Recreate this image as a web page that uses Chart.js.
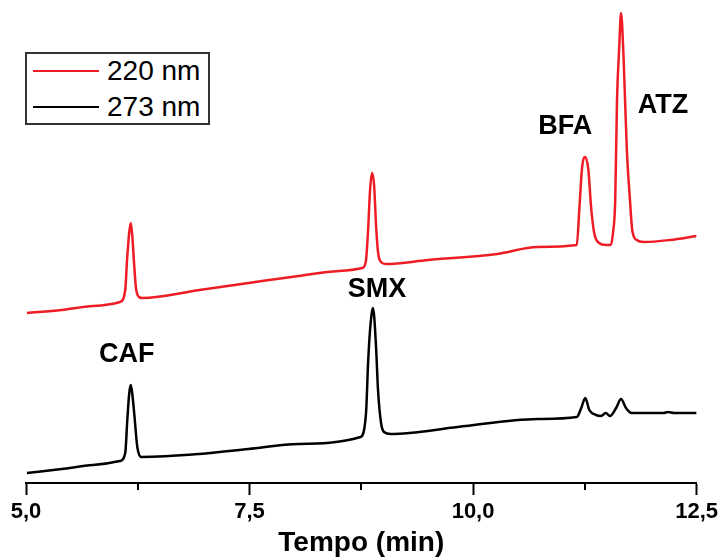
<!DOCTYPE html>
<html lang="pt">
<head>
<meta charset="utf-8">
<title>Cromatograma</title>
<script src="https://cdn.jsdelivr.net/npm/chart.js@4.4.1/dist/chart.umd.min.js"></script>
<style>
  html, body { margin: 0; padding: 0; background: #fff; }
  #wrap { position: relative; width: 724px; height: 558px; }
  #legend {
    position: absolute; left: 25px; top: 52px; width: 181px; height: 69px;
    border: 2px solid #333; background: #fff;
    font: 28px "Liberation Sans", Arial, sans-serif; color: #000;
  }
  #legend .row { position: absolute; left: 6px; height: 36px; display: flex; align-items: center; white-space: nowrap; }
  #legend .swatch { width: 66px; height: 0; border-top: 2px solid; margin-right: 8px; }
</style>
</head>
<body>
<div id="wrap">
  <canvas id="chrom" width="724" height="558"></canvas>
  <div id="legend"></div>
</div>
<script>
// retention time (min) and detector signal (a.u.) for each wavelength
const times220 = [5.01, 5.40, 5.75, 6.05, 6.11, 6.13, 6.155, 6.172, 6.188, 6.21, 6.23, 6.265, 6.30, 6.94, 7.49, 8.05, 8.50, 8.76,
  8.80, 8.826, 8.848, 8.87, 8.893, 8.915, 8.937, 8.97, 9.026, 9.50, 10.27, 10.72, 11.16, 11.19, 11.22, 11.255, 11.29, 11.32,
  11.355, 11.41, 11.485, 11.54, 11.565, 11.59, 11.61, 11.635, 11.655, 11.68, 11.70, 11.72, 11.755, 11.78, 11.83, 11.91, 12.2, 12.5];
const signal220 = [170, 173, 177, 181, 193, 223, 251, 260, 248, 218, 195, 186, 185, 193, 200, 207, 212, 215,
  221, 253, 293, 310, 298, 258, 231, 221, 219, 223, 229, 236, 238, 276, 316, 326, 313, 276,
  250, 240, 238, 238, 250, 283, 383, 436, 470, 433, 383, 333, 283, 253, 243, 241, 243, 247];

const times273 = [5.01, 5.40, 5.75, 6.05, 6.11, 6.133, 6.155, 6.172, 6.19, 6.21, 6.245, 6.29, 6.94, 7.49, 8.05, 8.74,
  8.803, 8.826, 8.848, 8.881, 8.915, 8.937, 8.971, 9.004, 9.08, 9.83, 10.72, 11.16, 11.21, 11.255, 11.30, 11.375,
  11.43, 11.485, 11.53, 11.60, 11.655, 11.71, 11.775, 12.13, 12.18, 12.25, 12.5];
const signal273 = [10, 14, 18, 22, 30, 63, 90, 98, 88, 70, 36, 26, 29, 34, 39, 46,
  70, 120, 153, 175, 136, 93, 60, 51, 49, 56, 64, 66, 75, 85, 73, 68,
  67, 70, 67, 75, 84, 75, 70, 70, 71, 70, 70];

const seriesLabels = ["220 nm", "273 nm"];
const seriesColors = ["#ee1c25", "#000000"];

const peakNames = ["CAF", "SMX", "BFA", "ATZ"];
const peakTimes = [6.172, 8.881, 11.255, 11.655];

const majorTicks = [5.0, 7.5, 10.0, 12.5];
const majorTickLabels = ["5,0", "7,5", "10,0", "12,5"];
const minorTicks = [6.25, 8.75, 11.25];

const FONT = '"Liberation Sans", Arial, sans-serif';

function toPoints(xs, ys) {
  return xs.map((x, i) => ({ x, y: ys[i] }));
}

// where each peak name sits, relative to the apex of the trace it names
const peakLabelLayout = [
  { series: 1, dx: -4, dy: -30 },
  { series: 1, dx: 4, dy: -18 },
  { series: 0, dx: -20, dy: -30 },
  { series: 0, dx: 42, dy: 93 }
];

const peakLabels = {
  id: "peakLabels",
  afterDatasetsDraw(chart) {
    const { ctx, scales: { x, y } } = chart;
    ctx.save();
    ctx.font = `bold 27px ${FONT}`;
    ctx.fillStyle = "#000";
    ctx.textAlign = "center";
    ctx.textBaseline = "middle";
    peakNames.forEach((name, i) => {
      const lay = peakLabelLayout[i];
      const pts = chart.data.datasets[lay.series].data;
      let apex = null;
      pts.forEach(p => {
        if (Math.abs(p.x - peakTimes[i]) < 0.05 && (!apex || p.y > apex.y)) apex = p;
      });
      if (!apex) return;
      ctx.fillText(name, x.getPixelForValue(apex.x) + lay.dx, y.getPixelForValue(apex.y) + lay.dy);
    });
    ctx.restore();
  }
};

// shorter tick marks between the labelled ones
const minorTickMarks = {
  id: "minorTickMarks",
  afterDraw(chart) {
    const { ctx, chartArea, scales: { x } } = chart;
    ctx.save();
    ctx.strokeStyle = "#000";
    ctx.lineWidth = 2;
    minorTicks.forEach(v => {
      const px = Math.round(x.getPixelForValue(v));
      ctx.beginPath();
      ctx.moveTo(px, chartArea.bottom);
      ctx.lineTo(px, chartArea.bottom + 7);
      ctx.stroke();
    });
    ctx.restore();
  }
};

const htmlLegend = {
  id: "htmlLegend",
  afterUpdate(chart) {
    const box = document.getElementById("legend");
    box.innerHTML = "";
    chart.data.datasets.forEach((ds, i) => {
      const row = document.createElement("div");
      row.className = "row";
      row.style.top = (-1 + i * 36) + "px";
      const sw = document.createElement("span");
      sw.className = "swatch";
      sw.style.borderTopColor = ds.borderColor;
      const txt = document.createElement("span");
      txt.textContent = ds.label;
      row.appendChild(sw);
      row.appendChild(txt);
      box.appendChild(row);
    });
  }
};

new Chart(document.getElementById("chrom"), {
  type: "line",
  data: {
    datasets: [
      { label: seriesLabels[0], data: toPoints(times220, signal220), borderColor: seriesColors[0] },
      { label: seriesLabels[1], data: toPoints(times273, signal273), borderColor: seriesColors[1] }
    ]
  },
  options: {
    responsive: false,
    animation: false,
    devicePixelRatio: 1,
    layout: { padding: { left: 26, right: 24, top: 10, bottom: 1 } },
    elements: {
      point: { radius: 0 },
      line: { borderWidth: 2.5, cubicInterpolationMode: "monotone", fill: false }
    },
    plugins: { legend: { display: false }, tooltip: { enabled: false } },
    scales: {
      x: {
        type: "linear",
        min: 5,
        max: 12.5,
        afterBuildTicks(scale) {
          scale.ticks = [...majorTicks, ...minorTicks].sort((a, b) => a - b).map(v => ({ value: v }));
        },
        border: { display: true, color: "#000", width: 2 },
        grid: {
          display: true,
          drawOnChartArea: false,
          drawTicks: true,
          tickLength: 12,
          tickWidth: 2,
          tickColor: ctx => (ctx.tick && majorTicks.includes(ctx.tick.value) ? "#000" : "rgba(0,0,0,0)")
        },
        ticks: {
          autoSkip: false,
          maxRotation: 0,
          padding: 6,
          color: "#000",
          font: { family: FONT, size: 22, weight: "bold", lineHeight: 1 },
          callback: v => {
            const k = majorTicks.indexOf(v);
            return k >= 0 ? majorTickLabels[k] : "";
          }
        },
        title: {
          display: true,
          text: "Tempo (min)",
          color: "#000",
          padding: 0,
          font: { family: FONT, size: 28, weight: "bold", lineHeight: 1 }
        }
      },
      y: { display: false, min: 0, max: 473 }
    }
  },
  plugins: [peakLabels, minorTickMarks, htmlLegend]
});
</script>
</body>
</html>
